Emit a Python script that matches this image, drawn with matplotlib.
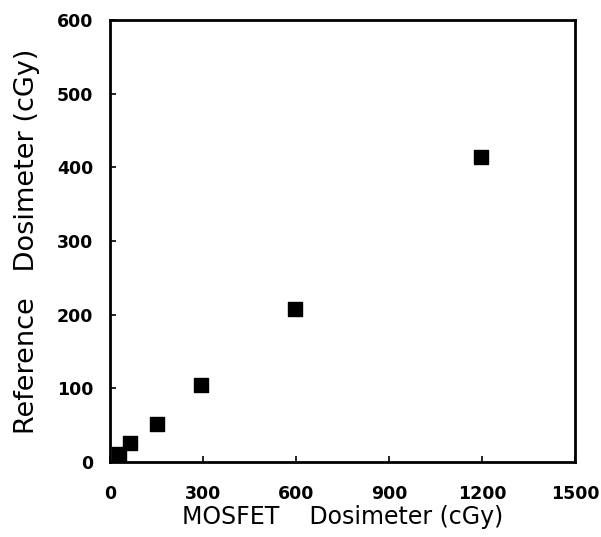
import matplotlib

matplotlib.use("Agg")
import matplotlib.pyplot as plt  # noqa: E402

# MOSFET reading vs reference dosimeter (cGy)
mosfet = [29, 66, 150, 295, 597, 1195]
reference = [10, 25, 52, 104, 207, 414]

x_ticks = [0, 300, 600, 900, 1200, 1500]
y_ticks = [0, 100, 200, 300, 400, 500, 600]

fig = plt.figure(figsize=(6.01, 5.37), dpi=100)
ax = fig.add_axes([0.183, 0.140, 0.774, 0.823])

ax.scatter(mosfet, reference, marker="s", s=88, c="black", zorder=3)

ax.set_xlim(0, 1500)
ax.set_ylim(0, 600)
ax.set_xticks(x_ticks)
ax.set_yticks(y_ticks)
ax.tick_params(direction="in", length=4, width=1.2, labelsize=12.5)
ax.tick_params(axis="x", pad=17)
ax.tick_params(axis="y", pad=12)
for lbl in ax.get_xticklabels() + ax.get_yticklabels():
    lbl.set_fontweight("bold")
for s in ax.spines.values():
    s.set_linewidth(2)

ax.set_xlabel("MOSFET    Dosimeter (cGy)", fontsize=17, labelpad=1)
ax.set_ylabel("Reference   Dosimeter (cGy)", fontsize=19.5, labelpad=12)

fig.savefig("out.png", dpi=100)
